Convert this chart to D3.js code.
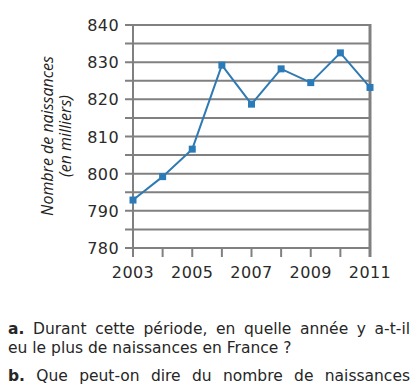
<!DOCTYPE html>
<html lang="fr">
<head>
<meta charset="UTF-8">
<title>Naissances en France 2003-2011</title>
<script src="https://d3js.org/d3.v7.min.js"></script>
<style>
    body { margin: 0; background: #fff; }
    #wrap { position: relative; width: 418px; height: 388px; overflow: hidden; }
    svg { position: absolute; left: 0; top: 0; }
    .q { position: absolute; left: 8px; width: 402px; font: 15.5px "DejaVu Sans", sans-serif; color: #262626;
         text-align: justify; text-align-last: justify; white-space: nowrap; line-height: 18px; }
    .q.last { text-align-last: left; }
</style>
</head>
<body>
<div id="wrap">
    <svg width="418" height="388"></svg>
</div>
<script>
    const years = [2003, 2004, 2005, 2006, 2007, 2008, 2009, 2010, 2011];
    const births = [792.9, 799.2, 806.6, 829.2, 818.7, 828.2, 824.5, 832.5, 823.2];
    const yTicks = [780, 790, 800, 810, 820, 830, 840];
    const xTickLabels = [2003, 2005, 2007, 2009, 2011];
    const questions = [
        { b: "a.", t: " Durant cette période, en quelle année y a-t-il", top: 320, last: false },
        { b: "", t: "eu le plus de naissances en France ?", top: 339, last: true },
        { b: "b.", t: " Que peut-on dire du nombre de naissances", top: 367, last: false }
    ];

    const svg = d3.select("svg");
    const plotL = 133, plotR = 370, plotT = 25, plotB = 248;

    const x = d3.scaleLinear().domain([2003, 2011]).range([plotL, plotR]);
    const y = d3.scaleLinear().domain([780, 840]).range([plotB, plotT]);
    const grey = "#808080";

    // lignes horizontales (toutes les 5 unités)
    svg.append("g").selectAll("line")
        .data(d3.range(780, 841, 5))
        .enter().append("line")
        .attr("x1", plotL - 8).attr("x2", plotR)
        .attr("y1", d => y(d)).attr("y2", d => y(d))
        .attr("stroke", grey).attr("stroke-width", 2);

    // axe vertical et bord droit
    svg.append("line").attr("x1", plotL).attr("x2", plotL)
        .attr("y1", plotT).attr("y2", plotB + 9)
        .attr("stroke", grey).attr("stroke-width", 2);
    svg.append("line").attr("x1", plotR).attr("x2", plotR)
        .attr("y1", plotT - 1).attr("y2", plotB + 9)
        .attr("stroke", grey).attr("stroke-width", 3);

    // graduations de l'axe x
    svg.append("g").selectAll("line")
        .data(years)
        .enter().append("line")
        .attr("x1", d => x(d)).attr("x2", d => x(d))
        .attr("y1", plotB).attr("y2", plotB + 9)
        .attr("stroke", grey).attr("stroke-width", 2);

    svg.append("g").selectAll("text")
        .data(yTicks)
        .enter().append("text")
        .attr("x", 119).attr("y", d => y(d) + 6)
        .attr("text-anchor", "end")
        .style("font", "16px 'DejaVu Sans', sans-serif")
        .style("letter-spacing", "0.4px")
        .attr("fill", "#2a2a2a")
        .text(d => d);

    svg.append("g").selectAll("text")
        .data(xTickLabels)
        .enter().append("text")
        .attr("x", d => x(d)).attr("y", 278)
        .attr("text-anchor", "middle")
        .style("font", "16px 'DejaVu Sans', sans-serif")
        .style("letter-spacing", "0.4px")
        .attr("fill", "#2a2a2a")
        .text(d => d);

    // titre de l'axe y
    const title = svg.append("text")
        .attr("transform", "translate(0,136) rotate(-90)")
        .attr("text-anchor", "middle")
        .style("font", "italic 16px 'Open Sans', sans-serif")
        .attr("fill", "#222");
    title.append("tspan").attr("x", 0).attr("y", 53).text("Nombre de naissances");
    title.append("tspan").attr("x", 0).attr("y", 71).text("(en milliers)");

    // courbe
    const data = years.map((d, i) => ({ year: d, v: births[i] }));
    svg.append("path")
        .datum(data)
        .attr("fill", "none")
        .attr("stroke", "#2f7ab3")
        .attr("stroke-width", 2)
        .attr("d", d3.line().x(d => x(d.year)).y(d => y(d.v)));

    svg.append("g").selectAll("rect")
        .data(data)
        .enter().append("rect")
        .attr("x", d => x(d.year) - 3.5).attr("y", d => y(d.v) - 3.5)
        .attr("width", 7).attr("height", 7)
        .attr("fill", "#2b7bb9");

    // questions
    const wrap = d3.select("#wrap");
    questions.forEach(q => {
        const div = wrap.append("div").attr("class", "q" + (q.last ? " last" : ""))
            .style("top", q.top + "px");
        if (q.b) div.append("b").text(q.b);
        div.append("span").text(q.t);
    });
</script>
</body>
</html>
